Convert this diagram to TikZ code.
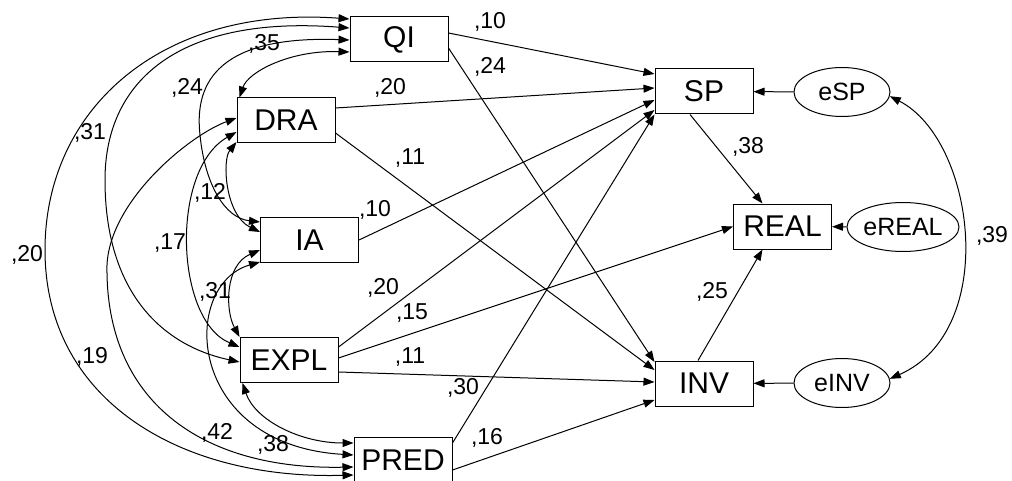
\documentclass[tikz,border=0pt]{standalone}
\usepackage{fontspec}
\setmainfont{Liberation Sans}
\usetikzlibrary{shapes,arrows.meta}

\begin{document}
\begin{tikzpicture}[x=0.5pt,y=-0.5pt,line width=0.5pt,
    obs/.style={draw,rectangle,minimum width=49pt,minimum height=22.5pt,
        inner sep=0pt,font=\fontsize{15}{18}\selectfont},
    err/.style={draw,ellipse,minimum width=48pt,minimum height=24.5pt,
        inner sep=0pt,font=\fontsize{12.5}{15}\selectfont},
    coef/.style={inner sep=0pt,font=\fontsize{11.5}{13}\selectfont},
    reg/.style={-{Triangle[length=5.5pt,width=4pt]}},
    cov/.style={{Triangle[length=5.5pt,width=4pt]}-{Triangle[length=5.5pt,width=4pt]}}]
    \useasboundingbox (0,0) rectangle (1012,481);

    % Observed variables
    \node [obs] (QI)   at (399,39.5)    {QI};
    \node [obs] (DRA)  at (286,120.5)   {DRA};
    \node [obs] (IA)   at (309.5,240)   {IA};
    \node [obs] (EXPL) at (289,360)     {EXPL};
    \node [obs] (PRED) at (403,460)     {PRED};
    \node [obs] (SP)   at (704,91.5)    {SP};
    \node [obs] (REAL) at (782.5,226.5) {REAL};
    \node [obs] (INV)  at (704,383.5)   {INV};

    % Error terms
    \node [err] (eSP)   at (842,92)  {eSP};
    \node [err] (eREAL) at (903,227) {eREAL};
    \node [err] (eINV)  at (842,383) {eINV};

    % Regression paths
    \draw [reg] ([shift={(0,-6.5)}]QI.east) -- ([shift={(0,-17.5)}]SP.west);
    \draw [reg] ([shift={(0,8.5)}]QI.east) -- ([shift={(0,-21.5)}]INV.west);
    \draw [reg] ([shift={(0,-12.5)}]DRA.east) -- ([shift={(0,-3.5)}]SP.west);
    \draw [reg] ([shift={(0,12.5)}]DRA.east) -- ([shift={(0,-13.5)}]INV.west);
    \draw [reg] (IA.east) -- ([shift={(0,8.5)}]SP.west);
    \draw [reg] ([shift={(0,-13)}]EXPL.east) -- ([shift={(0,18.5)}]SP.west);
    \draw [reg] ([shift={(0,-2)}]EXPL.east) -- (REAL.west);
    \draw [reg] ([shift={(0,12)}]EXPL.east) -- ([shift={(0,-1.5)}]INV.west);
    \draw [reg] ([shift={(0,-17)}]PRED.east) -- (SP.south west);
    \draw [reg] ([shift={(0,10)}]PRED.east) -- ([shift={(0,16.5)}]INV.west);
    \draw [reg] ([shift={(-14,0)}]SP.south) -- ([shift={(-20,0)}]REAL.north);
    \draw [reg] ([shift={(-6,0)}]INV.north) -- ([shift={(-20,0)}]REAL.south);
    \draw [reg] (eSP) -- (SP);
    \draw [reg] (eREAL) -- (REAL);
    \draw [reg] (eINV) -- (INV);

    % Covariances
    \draw [cov] ([shift={(0,-20.5)}]QI.west) .. controls (160,5) and (45,110) .. (45,250)
        .. controls (45,400) and (180,480) .. ([shift={(0,15)}]PRED.west);
    \draw [cov] ([shift={(0,-11.5)}]QI.west) .. controls (180,15) and (105,80) .. (105,180)
        .. controls (105,290) and (160,345) .. ([shift={(0,2)}]EXPL.west);
    \draw [cov] ([shift={(0,-2.5)}]DRA.west) .. controls (190,135) and (110,200) .. (107,265)
        .. controls (105,400) and (200,470) .. ([shift={(0,7)}]PRED.west);
    \draw [cov] ([shift={(0,0.5)}]QI.west) .. controls (210,35) and (195,90) .. (200,135)
        .. controls (205,185) and (225,218) .. ([shift={(0,-18)}]IA.west);
    \draw [cov] ([shift={(0,12.5)}]QI.west) .. controls (290,50) and (248,72) .. ([shift={(3,0)}]DRA.north west);
    \draw [cov] ([shift={(0,21.5)}]DRA.west) .. controls (222,160) and (225,215) .. ([shift={(0,-8)}]IA.west);
    \draw [cov] ([shift={(0,11.5)}]DRA.west) .. controls (170,170) and (175,320) .. ([shift={(0,-13)}]EXPL.west);
    \draw [cov] ([shift={(0,10)}]IA.west) .. controls (225,265) and (225,310) .. (EXPL.north west);
    \draw [cov] ([shift={(0,22)}]IA.west) .. controls (180,285) and (185,445) .. ([shift={(0,-5)}]PRED.west);
    \draw [cov] ([shift={(3,0)}]EXPL.south west) .. controls (255,420) and (300,443) .. ([shift={(0,-17)}]PRED.west);
    \draw [cov] (eSP.-5) .. controls (975,140) and (1000,330) .. (eINV.5);

    % Path coefficients
    \node [coef] (wQISP)    at (490,22)  {,10};
    \node [coef] (wQIINV)   at (490,67)  {,24};
    \node [coef] (wDRASP)   at (390,88)  {,20};
    \node [coef] (wDRAINV)  at (410,158) {,11};
    \node [coef] (wIASP)    at (375,210) {,10};
    \node [coef] (wEXPLSP)  at (383,288) {,20};
    \node [coef] (wEXPLREAL) at (412,313) {,15};
    \node [coef] (wEXPLINV) at (410,357) {,11};
    \node [coef] (wPREDSP)  at (463,388) {,30};
    \node [coef] (wPREDINV) at (487,438) {,16};
    \node [coef] (wSPREAL)  at (748,147) {,38};
    \node [coef] (wINVREAL) at (712,292) {,25};

    % Covariance values
    \node [coef] (rQIDRA)   at (264,44)  {,35};
    \node [coef] (rQIIA)    at (187,88)  {,24};
    \node [coef] (rQIEXPL)  at (90,133)  {,31};
    \node [coef] (rQIPRED)  at (27,255)  {,20};
    \node [coef] (rDRAIA)   at (210,193) {,12};
    \node [coef] (rDRAEXPL) at (170,243) {,17};
    \node [coef] (rDRAPRED) at (92,357)  {,19};
    \node [coef] (rIAEXPL)  at (215,292) {,31};
    \node [coef] (rIAPRED)  at (217,433) {,42};
    \node [coef] (rEXPLPRED) at (273,445) {,38};
    \node [coef] (rERR)     at (992,236) {,39};
\end{tikzpicture}
\end{document}
